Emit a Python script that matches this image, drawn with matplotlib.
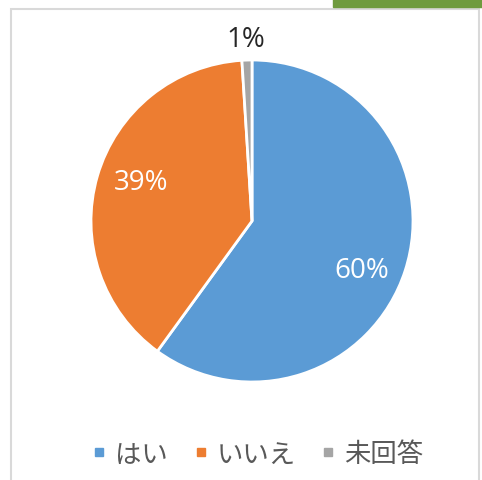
import matplotlib.pyplot as plt
import matplotlib.patches as patches
from matplotlib.lines import Line2D

plt.rcParams['font.family'] = ['Noto Sans CJK JP', 'DejaVu Sans']

labels = ['はい', 'いいえ', '未回答']
values = [60, 39, 1]
colors = ['#5B9BD5', '#ED7D31', '#A5A5A5']

fig = plt.figure(figsize=(4.82, 4.81), dpi=100)

# 枠線と右上の緑の帯
fig.patches.append(patches.Rectangle((11 / 482, -0.01), 468 / 482, 1 - 10 / 481 + 0.01,
                                     transform=fig.transFigure, fill=False,
                                     edgecolor='#d9d9d9', linewidth=1.5))
fig.patches.append(patches.Rectangle((333 / 482, 1 - 8 / 481), 1, 8 / 481,
                                     transform=fig.transFigure, color='#6f9b3e'))

ax = fig.add_axes([(252 - 161) / 482, 1 - (222 + 161) / 481, 322 / 482, 322 / 481])
wedges, texts, autotexts = ax.pie(values, colors=colors, startangle=90, counterclock=False,
                                  autopct='%1.0f%%', pctdistance=0.72,
                                  wedgeprops=dict(edgecolor='white', linewidth=2),
                                  textprops=dict(fontsize=20, family=['Open Sans', 'DejaVu Sans']))
for t in autotexts[:2]:
    t.set_color('white')
autotexts[1].set_position((autotexts[1].get_position()[0], autotexts[1].get_position()[1] + 0.04))
autotexts[0].set_position((autotexts[0].get_position()[0], autotexts[0].get_position()[1] - 0.08))
# 1% は円の外側
x, y = autotexts[2].get_position()
autotexts[2].set_position((x / 0.72 * 1.13, y / 0.72 * 1.13))
autotexts[2].set_color('#262626')
ax.set_xlim(-1, 1)
ax.set_ylim(-1, 1)
ax.set_aspect('equal')

handles = [Line2D([0], [0], marker='s', color='none', markerfacecolor=c,
                  markeredgecolor=c, markersize=6) for c in colors]
fig.legend(handles, labels, loc='center', bbox_to_anchor=(0.535, 1 - 455 / 481),
           ncol=3, frameon=False, fontsize=19, handlelength=0.5, handletextpad=0.35,
           columnspacing=1.0, labelcolor='#595959')

fig.savefig('out.png')
